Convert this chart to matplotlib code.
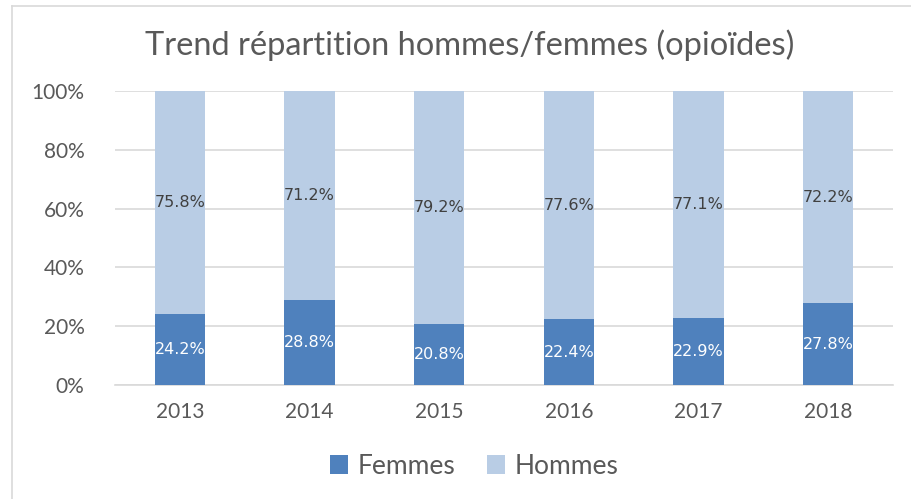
import matplotlib.pyplot as plt
import numpy as np

# Data
years = ["2013", "2014", "2015", "2016", "2017", "2018"]
femmes = [24.2, 28.8, 20.8, 22.4, 22.9, 27.8]
hommes = [75.8, 71.2, 79.2, 77.6, 77.1, 72.2]

C_F = "#4F81BD"
C_H = "#B9CDE5"
TXT = "#595959"
GRID = "#D9D9D9"

plt.rcParams['font.family'] = ['Lato', 'DejaVu Sans']

fig = plt.figure(figsize=(9.11, 4.99), dpi=100)
ax = fig.add_axes([115 / 911, 1 - 385 / 499, (893 - 115) / 911, (385 - 91) / 499])

x = np.arange(len(years))
w = 0.39
ax.bar(x, femmes, w, color=C_F, label="Femmes", zorder=3)
ax.bar(x, hommes, w, bottom=femmes, color=C_H, label="Hommes", zorder=3)

for i in range(len(years)):
    ax.text(x[i], femmes[i] / 2, f"{femmes[i]:.1f}%", ha="center", va="center",
            color="white", fontsize=11.5, family="DejaVu Sans", zorder=4)
    ax.text(x[i], femmes[i] + hommes[i] / 2, f"{hommes[i]:.1f}%", ha="center", va="center",
            color="#404040", fontsize=11.5, family="DejaVu Sans", zorder=4)

ax.set_xlim(-0.5, len(years) - 0.5)
ax.set_ylim(0, 100)
ax.set_yticks([0, 20, 40, 60, 80, 100])
ax.set_yticklabels([f"{v}%" for v in [0, 20, 40, 60, 80, 100]])
ax.set_xticks(x)
ax.set_xticklabels(years)
ax.tick_params(axis="both", length=0, colors=TXT, labelsize=15)
ax.tick_params(axis="y", pad=22)
ax.tick_params(axis="x", pad=12)
ax.yaxis.grid(True, color=GRID, linewidth=1.2, zorder=0)
for s in ["top", "right", "left"]:
    ax.spines[s].set_visible(False)
ax.spines["bottom"].set_color(GRID)
ax.spines["bottom"].set_linewidth(1.2)

fig.text(470 / 911, 1 - 45 / 499, "Trend répartition hommes/femmes (opioïdes)",
         ha="center", va="center", fontsize=23.5, color=TXT)

fig.legend(loc="center", bbox_to_anchor=(474 / 911, 1 - 466 / 499), ncol=2, frameon=False,
           fontsize=19, labelcolor=TXT, handlelength=0.7, handleheight=0.7,
           handletextpad=0.35, columnspacing=1.2)

# chart border
fig.add_artist(plt.Line2D([12 / 911, 1], [1 - 6 / 499, 1 - 6 / 499], color=GRID, lw=1.2))
fig.add_artist(plt.Line2D([12 / 911, 12 / 911], [0, 1 - 6 / 499], color=GRID, lw=1.2))

fig.savefig("out.png", dpi=100)
